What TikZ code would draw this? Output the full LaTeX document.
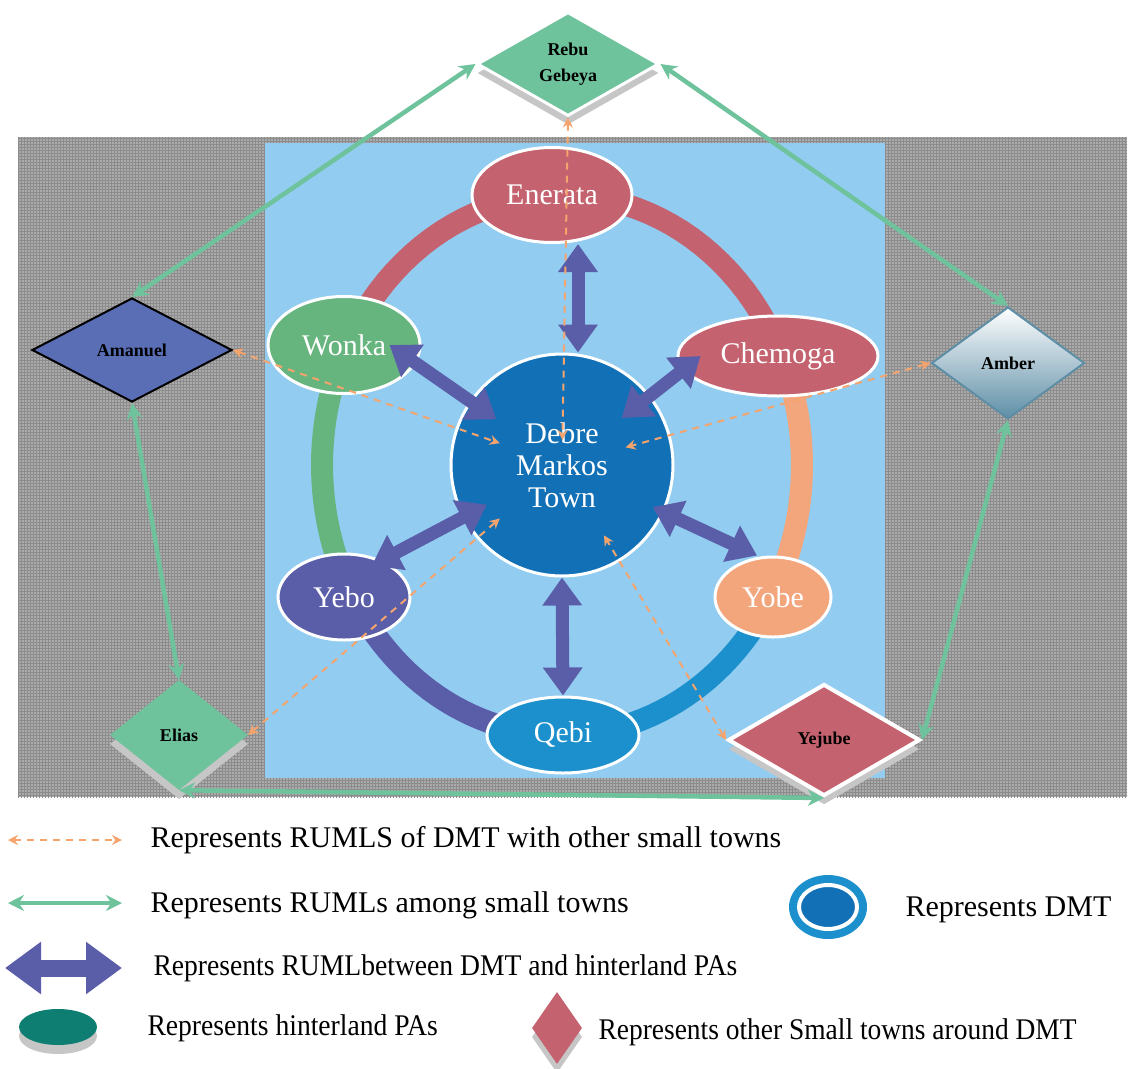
\documentclass[tikz,border=0pt]{standalone}
\usepackage{fontspec}
\setmainfont{Liberation Serif}
\usepackage{tikz}
\usetikzlibrary{shapes.geometric, arrows.meta, calc, shadows, patterns}
\definecolor{dmtBlue}{HTML}{1270B6}
\definecolor{skyBlue}{HTML}{92CCF1}
\definecolor{bgGray}{HTML}{ABABAB}
\definecolor{roseRed}{HTML}{C4636F}
\definecolor{leafGreen}{HTML}{67B57E}
\definecolor{slateBlue}{HTML}{5A5DA8}
\definecolor{peach}{HTML}{F3A67C}
\definecolor{qebiBlue}{HTML}{1C90CC}
\definecolor{mintGreen}{HTML}{6EC39D}
\definecolor{dashOrange}{HTML}{F4A46C}
\definecolor{amanBlue}{HTML}{5A6EB6}
\definecolor{amberSteel}{HTML}{5E8EA6}
\definecolor{hintTeal}{HTML}{0E7E72}

\begin{document}
\begin{tikzpicture}[x=1pt, y=-1pt,
  pa/.style={ellipse, draw=white, line width=3pt, inner sep=0pt, text=white,
    font=\fontsize{30}{32}\selectfont},
  town/.style={diamond, inner sep=0pt, align=center, text=black,
    font=\fontsize{18}{26}\selectfont\bfseries},
  ring/.style={line width=22pt},
  pal/.style={line width=13pt, color=slateBlue,
    {Triangle[width=38pt,length=28pt]}-{Triangle[width=38pt,length=28pt]}},
  tt/.style={line width=4.5pt, color=mintGreen,
    {Stealth[width=16pt,length=16pt]}-{Stealth[width=16pt,length=16pt]}},
  dt/.style={line width=2pt, color=dashOrange, dash pattern=on 7pt off 6pt,
    {Stealth[width=10pt,length=10pt]}-{Stealth[width=10pt,length=10pt]}},
  key/.style={anchor=west, font=\fontsize{30}{32}\selectfont},
  shade/.style={drop shadow={shadow xshift=0pt, shadow yshift=-9pt, fill=gray!45, opacity=1}}
]
  \useasboundingbox (0,0) rectangle (1129,1068);

  % Background
  \fill[bgGray] (18,137) rectangle (1127,797);
  \fill[pattern=grid, pattern color=gray!90] (18,137) rectangle (1127,797);
  \fill[skyBlue] (265,143) rectangle (885,778);

  % Ring
  \draw[ring, roseRed] plot[domain=200:340, samples=50] ({562+240*cos(\x)}, {465+270*sin(\x)});
  \draw[ring, leafGreen] plot[domain=150:210, samples=30] ({562+240*cos(\x)}, {465+270*sin(\x)});
  \draw[ring, peach] plot[domain=-25:30, samples=30] ({562+240*cos(\x)}, {465+270*sin(\x)});
  \draw[ring, slateBlue] plot[domain=88:152, samples=30] ({562+240*cos(\x)}, {465+270*sin(\x)});
  \draw[ring, qebiBlue] plot[domain=28:92, samples=30] ({562+240*cos(\x)}, {465+270*sin(\x)});

  % Hinterland PAs
  \node[pa, fill=roseRed, minimum width=160pt, minimum height=95pt] (enerata) at (552,195) {Enerata};
  \node[pa, fill=leafGreen, minimum width=152pt, minimum height=97pt] (wonka) at (344,345) {Wonka};
  \node[pa, fill=roseRed, minimum width=200pt, minimum height=80pt] (chemoga) at (778,356) {Chemoga};
  \node[pa, fill=slateBlue, minimum width=132pt, minimum height=86pt] (yebo) at (344,597) {Yebo};
  \node[pa, fill=peach, minimum width=116pt, minimum height=80pt] (yobe) at (773,597) {Yobe};
  \node[pa, fill=qebiBlue, minimum width=152pt, minimum height=76pt] (qebi) at (563,735) {Qebi};

  % DMT
  \node[circle, fill=dmtBlue, draw=white, line width=3pt, minimum size=222pt, text=white,
    align=center, font=\fontsize{30}{32}\selectfont] (dmt) at (562,465) {Debre\\Markos\\Town};

  % Small towns
  \node[town, shade, fill=mintGreen, draw=white, line width=3pt, minimum width=182pt, minimum height=104pt] (rebu) at (568,64) {Rebu\\Gebeya};
  \node[town, fill=amanBlue, draw=black, line width=2pt, minimum width=200pt, minimum height=104pt] (amanuel) at (132,350) {Amanuel};
  \node[town, top color=white, bottom color=amberSteel, draw=amberSteel, line width=2pt, minimum width=153pt, minimum height=112pt] (amber) at (1008,363) {Amber};
  \node[town, shade, fill=mintGreen, minimum width=138pt, minimum height=110pt] (elias) at (179,735) {Elias};
  \node[town, shade, fill=roseRed, draw=white, line width=4pt, minimum width=192pt, minimum height=112pt] (yejube) at (824,740) {Yejube};

  % DMT - hinterland PAs
  \draw[pal] ([xshift=26pt]enerata.south) -- ([xshift=16pt]dmt.north);
  \draw[pal, shorten >=80pt] ([xshift=-32pt]wonka.east) -- (dmt.center);
  \draw[pal, shorten >=76pt] ([xshift=24pt]chemoga.west) -- (dmt.center);
  \draw[pal, shorten >=85pt] ([xshift=-20pt]yebo.north east) -- (dmt.center);
  \draw[pal, shorten >=100pt] ([xshift=-16pt]yobe.north) -- (dmt.center);
  \draw[pal] (qebi.north) -- (dmt.south);

  % Small towns among themselves
  \draw[tt] (rebu.west) -- (amanuel.north);
  \draw[tt] (rebu.east) -- (amber.north);
  \draw[tt] (amanuel.south) -- (elias.north);
  \draw[tt] (amber.south) -- (yejube.east);
  \draw[tt] (elias.south) -- (yejube.south);

  % DMT - small towns
  \draw[dt, shorten >=25pt] (rebu.south) -- (dmt.center);
  \draw[dt, shorten >=66pt] (amanuel.east) -- (dmt.center);
  \draw[dt, shorten >=66pt] (amber.west) -- (dmt.center);
  \draw[dt, shorten >=82pt] (elias.east) -- (dmt.center);
  \draw[dt, shorten >=82pt] (yejube.west) -- (dmt.center);

  % Legend
  \coordinate (k1a) at (8,840);
  \coordinate (k1b) at (122,840);
  \draw[dt] (k1a) -- (k1b);
  \node[key] (t1) at (147,840) {Represents RUMLS of DMT with other small towns};

  \coordinate (k2a) at (8,903);
  \coordinate (k2b) at (122,903);
  \draw[tt] (k2a) -- (k2b);
  \node[key] (t2) at (147,905) {Represents RUMLs among small towns};

  \coordinate (k3a) at (5,968);
  \coordinate (k3b) at (122,968);
  \draw[line width=17pt, color=slateBlue,
    {Triangle[width=50pt,length=36pt]}-{Triangle[width=50pt,length=36pt]}] (k3a) -- (k3b);
  \node[key] (t3) at (150,968) {\scalebox{0.92}[1]{Represents RUMLbetween DMT and hinterland PAs}};

  \node[ellipse, shade, fill=hintTeal, minimum width=78pt, minimum height=36pt] (paKey) at (58,1027) {};
  \node[key] (t4) at (144,1028) {\scalebox{0.92}[1]{Represents hinterland PAs}};

  \node[diamond, shade, fill=roseRed, minimum width=50pt, minimum height=72pt, inner sep=0pt] (townKey) at (557,1028) {};
  \node[key] (t5) at (595,1032) {\scalebox{0.915}[1]{Represents other Small towns around DMT}};

  \node[ellipse, fill=qebiBlue, minimum width=78pt, minimum height=64pt] (dmtRing) at (828,907) {};
  \node[ellipse, fill=dmtBlue, draw=white, line width=4pt, minimum width=58pt, minimum height=44pt] (dmtKey) at (828,907) {};
  \node[key] (t6) at (902,910) {Represents DMT};
\end{tikzpicture}
\end{document}
